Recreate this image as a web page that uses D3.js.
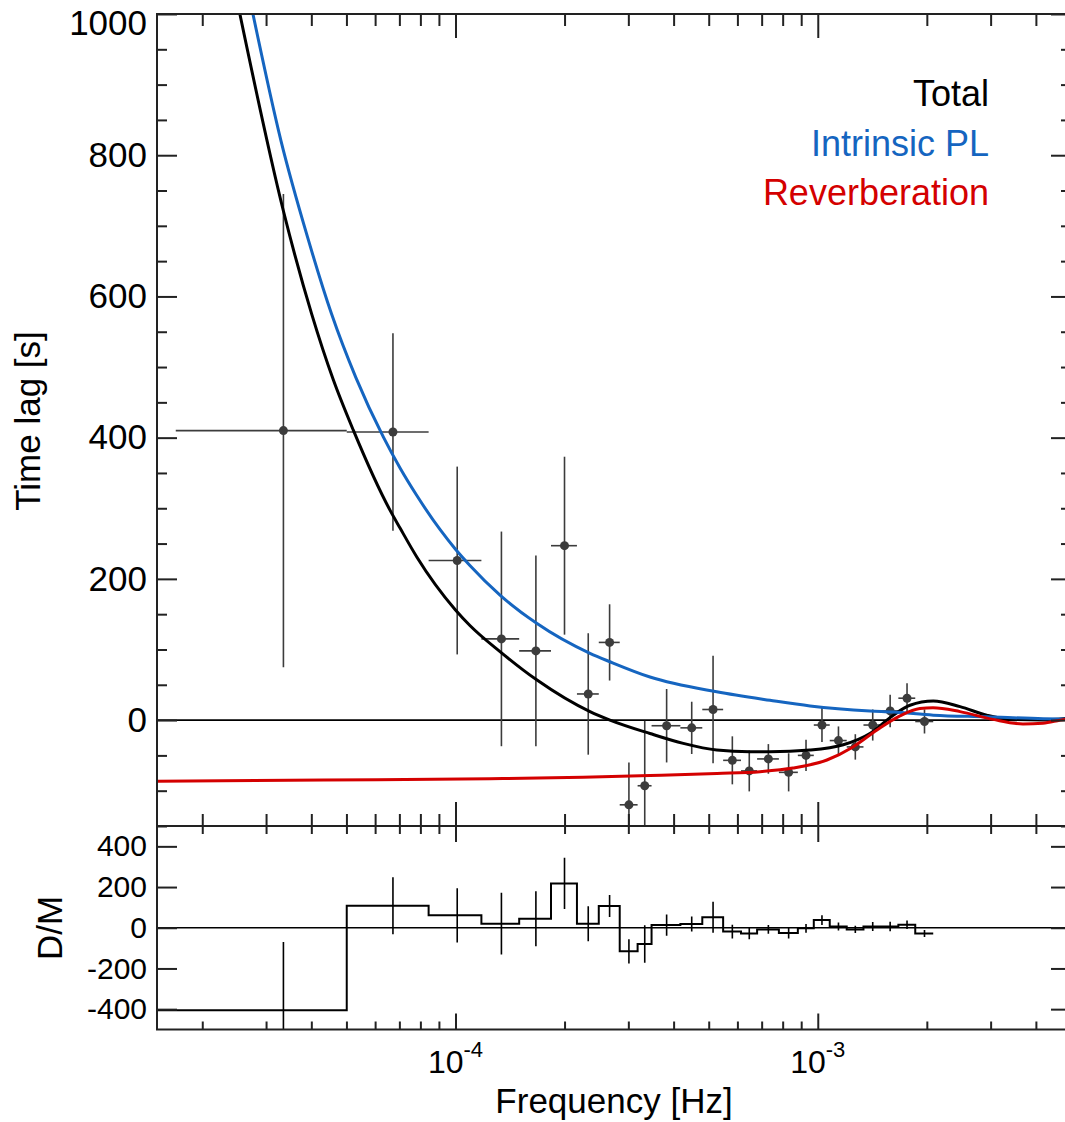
<!DOCTYPE html>
<html>
<head>
<meta charset="utf-8">
<script src="https://cdn.jsdelivr.net/npm/d3@7"></script>
<style>
  html, body { margin: 0; padding: 0; background: #fff; }
  svg { display: block; }
</style>
</head>
<body>
<svg id="chart" width="1065" height="1122"></svg>
<script>
// ---- Data -----------------------------------------------------------------
// Frequency bin edges [Hz]; measurement i covers binEdges[i]..binEdges[i+1]
const binEdges = [1.69e-5, 5.01e-5, 8.43e-5, 1.179e-4, 1.499e-4, 1.835e-4, 2.164e-4,
  2.486e-4, 2.84e-4, 3.182e-4, 3.477e-4, 4.176e-4, 4.80e-4, 5.48e-4, 6.14e-4, 6.80e-4,
  7.81e-4, 8.81e-4, 9.75e-4, 1.079e-3, 1.202e-3, 1.337e-3, 1.499e-3, 1.669e-3,
  1.858e-3, 2.083e-3];

// Measured time lag [s] and 1-sigma error per bin
const lag    = [410, 408, 226, 115, 98, 247, 37, 110, -120, -93, -8, -11, 15, -57, -72,
                -55, -74, -50, -7, -29, -38, -7, 13, 31, -2];
const lagErr = [335, 140, 133, 152, 135, 126, 86, 54, 60, 92, 52, 37, 76, 34, 29,
                21, 27, 22, 24, 20, 18, 22, 23, 21, 17];

// Residuals (data minus model) per bin
const ratio  = [-405, 108, 61, 20, 44, 218, 20, 107, -116, -80, 13, 18, 52, -19, -28,
                -8, -26, -3, 38, 6, -8, 6, 6, 15, -28];

// Model curves: total, intrinsic power-law lag, reverberation lag
const totalFreq = [2.54e-5, 3.35e-5, 4.01e-5, 4.60e-5, 5.22e-5, 6.60e-5, 7.03e-5, 7.82e-5,
  1.0e-4, 1.096e-4, 1.327e-4, 1.675e-4, 2.351e-4, 2.669e-4, 3.442e-4, 4.254e-4, 5.26e-4,
  6.50e-4, 7.38e-4, 9.52e-4, 1.176e-3, 1.393e-3, 1.616e-3, 1.797e-3, 2.084e-3, 2.47e-3,
  2.926e-3, 3.393e-3, 4.193e-3, 5.0e-3];
const totalLag = [1000, 721, 575, 482, 411, 297, 272, 231, 156, 134, 97, 57, 12, 0, -19,
  -33, -42.5, -45, -45, -42.5, -35, -19, 7, 21, 27, 19, 7, 1, 0, 3];

const plFreq = [2.76e-5, 3.3e-5, 3.9e-5, 4.55e-5, 5.31e-5, 6.32e-5, 7.03e-5, 7.82e-5,
  9.06e-5, 1.0e-4, 1.096e-4, 1.327e-4, 1.675e-4, 2.351e-4, 2.669e-4, 3.442e-4, 5.26e-4,
  7.38e-4, 9.52e-4, 1.393e-3, 1.616e-3, 2.084e-3, 2.926e-3, 4.193e-3, 5.0e-3];
const plLag = [1000, 820, 685, 575, 485, 401, 357, 318, 270, 242, 219, 177, 137, 94.5,
  82.6, 61, 40, 28, 20, 13, 11.5, 7, 4.7, 2, 1.5];

const revFreq = [1.5e-5, 4.335e-5, 1.245e-4, 2.249e-4, 3.442e-4, 5.27e-4, 6.93e-4,
  8.54e-4, 1.060e-3, 1.251e-3, 1.457e-3, 1.686e-3, 1.914e-3, 2.08e-3, 2.47e-3,
  3.045e-3, 3.684e-3, 4.183e-3, 4.81e-3, 5.0e-3];
const revLag = [-86.5, -85, -83, -81, -78.5, -75.5, -73, -68, -56.5, -38, -14, 6, 16.5,
  17.5, 12, 1, -5.5, -4.5, 1, 1.5];

// Axis ranges and tick labels
const xDomain = [1.5e-5, 5e-3];
const lagDomain = [-150, 1000];
const ratioDomain = [-500, 500];
const xMajorTicks = [1e-4, 1e-3];
const xMajorExp = ["-4", "-3"];
const xMinorTicks = [2e-5, 3e-5, 4e-5, 5e-5, 6e-5, 7e-5, 8e-5, 9e-5,
  2e-4, 3e-4, 4e-4, 5e-4, 6e-4, 7e-4, 8e-4, 9e-4, 2e-3, 3e-3, 4e-3];
const lagMajorTicks = [0, 200, 400, 600, 800, 1000];
const lagMinorTicks = [-150, -100, -50, 50, 100, 150, 250, 300, 350, 450, 500, 550,
  650, 700, 750, 850, 900, 950];
const ratioTicks = [-400, -200, 0, 200, 400];

const legendLabels = ["Total", "Intrinsic PL", "Reverberation"];
const seriesColors = ["#000000", "#1565c0", "#d40000"];

// ---- Layout ----------------------------------------------------------------
const FONT = '"Liberation Sans", Arial, Helvetica, sans-serif';
const left = 157, right = 1071, topY = 14, midY = 826, botY = 1029.5;
const frameColor = "#222";

const svg = d3.select("#chart").attr("font-family", FONT);

const x = d3.scaleLog().domain(xDomain).range([left, right]);
const yTop = d3.scaleLinear().domain(lagDomain).range([midY, topY]);
const yBot = d3.scaleLinear().domain(ratioDomain).range([botY, midY]);

const defs = svg.append("defs");
defs.append("clipPath").attr("id", "clip-top").append("rect")
  .attr("x", left).attr("y", topY).attr("width", right - left).attr("height", midY - topY);
defs.append("clipPath").attr("id", "clip-bot").append("rect")
  .attr("x", left).attr("y", midY).attr("width", right - left).attr("height", botY - midY);

const bins = lag.map((v, i) => ({
  lo: binEdges[i], hi: binEdges[i + 1], c: (binEdges[i] + binEdges[i + 1]) / 2,
  lag: v, err: lagErr[i], res: ratio[i]
}));

// ---- Upper panel: time lag vs frequency ------------------------------------
const lagPanel = svg.append("g").attr("clip-path", "url(#clip-top)");

lagPanel.append("line")
  .attr("x1", left).attr("x2", right)
  .attr("y1", yTop(0)).attr("y2", yTop(0))
  .attr("stroke", "#000").attr("stroke-width", 1.6);

const pts = lagPanel.append("g").attr("stroke", "#3c3c3c").attr("stroke-width", 1.6);
pts.selectAll("line.h").data(bins).join("line").attr("class", "h")
  .attr("x1", d => x(d.lo)).attr("x2", d => x(d.hi))
  .attr("y1", d => yTop(d.lag)).attr("y2", d => yTop(d.lag));
pts.selectAll("line.v").data(bins).join("line").attr("class", "v")
  .attr("x1", d => x(d.c)).attr("x2", d => x(d.c))
  .attr("y1", d => yTop(d.lag - d.err)).attr("y2", d => yTop(d.lag + d.err));
pts.selectAll("circle").data(bins).join("circle")
  .attr("cx", d => x(d.c)).attr("cy", d => yTop(d.lag)).attr("r", 4.5)
  .attr("fill", "#3c3c3c").attr("stroke", "none");

const curve = d3.line().x(d => x(d[0])).y(d => yTop(d[1])).curve(d3.curveMonotoneX);
const models = [
  d3.zip(totalFreq, totalLag),
  d3.zip(plFreq, plLag),
  d3.zip(revFreq, revLag)
];
lagPanel.selectAll("path.model").data(models).join("path").attr("class", "model")
  .attr("d", curve)
  .attr("fill", "none")
  .attr("stroke", (d, i) => seriesColors[i])
  .attr("stroke-width", 3)
  .attr("stroke-linejoin", "round");

svg.append("g").selectAll("text").data(legendLabels).join("text")
  .attr("x", 989).attr("y", (d, i) => 106 + i * 49.5)
  .attr("text-anchor", "end").attr("font-size", 36)
  .attr("fill", (d, i) => seriesColors[i])
  .text(d => d);

// ---- Lower panel: residuals -------------------------------------------------
const resPanel = svg.append("g").attr("clip-path", "url(#clip-bot)");

resPanel.append("line")
  .attr("x1", left).attr("x2", right)
  .attr("y1", yBot(0)).attr("y2", yBot(0))
  .attr("stroke", "#000").attr("stroke-width", 1.6);

const stepPts = [[xDomain[0], ratio[0]]]
  .concat(bins.map(d => [d.lo, d.res]))
  .concat([[binEdges[binEdges.length - 1], ratio[ratio.length - 1]]]);
resPanel.append("path")
  .attr("d", d3.line().x(d => x(d[0])).y(d => yBot(d[1])).curve(d3.curveStepAfter)(stepPts))
  .attr("fill", "none").attr("stroke", "#000").attr("stroke-width", 2);

resPanel.selectAll("line.err").data(bins).join("line").attr("class", "err")
  .attr("x1", d => x(d.c)).attr("x2", d => x(d.c))
  .attr("y1", d => yBot(d.res - d.err)).attr("y2", d => yBot(d.res + d.err))
  .attr("stroke", "#000").attr("stroke-width", 1.6);

// ---- Frames and axes --------------------------------------------------------
[[topY, midY], [midY, botY]].forEach(([y0, y1]) => {
  svg.append("rect")
    .attr("x", left).attr("y", y0).attr("width", right - left).attr("height", y1 - y0)
    .attr("fill", "none").attr("stroke", frameColor).attr("stroke-width", 2);
});

function styleAxis(g, size) {
  g.select(".domain").remove();
  g.attr("font-family", FONT).attr("font-size", size).attr("color", frameColor);
  g.selectAll("line").attr("stroke-width", 2);
  g.selectAll("text").attr("fill", "#000");
}

function addAxis(axis, tx, ty, size) {
  const g = svg.append("g").attr("transform", `translate(${tx},${ty})`).call(axis);
  styleAxis(g, size || 10);
  return g;
}

// y axes, upper panel
const yl = addAxis(d3.axisLeft(yTop).tickValues(lagMajorTicks).tickSize(-20)
  .tickPadding(10).tickFormat(d => String(d)), left, 0, 35);
// keep the topmost label inside the canvas
yl.selectAll(".tick text").filter(d => d === 1000).attr("y", 9);
addAxis(d3.axisLeft(yTop).tickValues(lagMinorTicks).tickSize(-10).tickFormat(""), left, 0);
addAxis(d3.axisRight(yTop).tickValues(lagMajorTicks).tickSize(-20).tickFormat(""), right, 0);
addAxis(d3.axisRight(yTop).tickValues(lagMinorTicks).tickSize(-10).tickFormat(""), right, 0);

// y axes, lower panel
addAxis(d3.axisLeft(yBot).tickValues(ratioTicks).tickSize(-20)
  .tickPadding(10).tickFormat(d => String(d)), left, 0, 30);
addAxis(d3.axisRight(yBot).tickValues(ratioTicks).tickSize(-20).tickFormat(""), right, 0);

// x ticks along every horizontal frame edge
[[topY, 24, 12], [midY, -24, -12], [midY, 16, 8], [botY, -16, -8]].forEach(([yy, maj, min]) => {
  addAxis(d3.axisBottom(x).tickValues(xMajorTicks).tickSize(maj).tickFormat(""), 0, yy);
  addAxis(d3.axisBottom(x).tickValues(xMinorTicks).tickSize(min).tickFormat(""), 0, yy);
});

// x tick labels as powers of ten
svg.append("g").selectAll("text").data(xMajorTicks).join("text")
  .attr("x", d => x(d)).attr("y", 1073)
  .attr("text-anchor", "middle").attr("font-size", 32).attr("fill", "#000")
  .each(function (d, i) {
    const t = d3.select(this);
    t.append("tspan").text("10");
    t.append("tspan").attr("dy", -16).attr("font-size", 22).text(xMajorExp[i]);
  });

// axis titles
svg.append("text")
  .attr("x", 614).attr("y", 1113).attr("text-anchor", "middle")
  .attr("font-size", 35).attr("fill", "#000")
  .text("Frequency [Hz]");
svg.append("text")
  .attr("transform", "translate(40,421) rotate(-90)").attr("text-anchor", "middle")
  .attr("font-size", 35).attr("fill", "#000")
  .text("Time lag [s]");
svg.append("text")
  .attr("transform", "translate(62,928) rotate(-90)").attr("text-anchor", "middle")
  .attr("font-size", 35).attr("fill", "#000")
  .text("D/M");
</script>
</body>
</html>
